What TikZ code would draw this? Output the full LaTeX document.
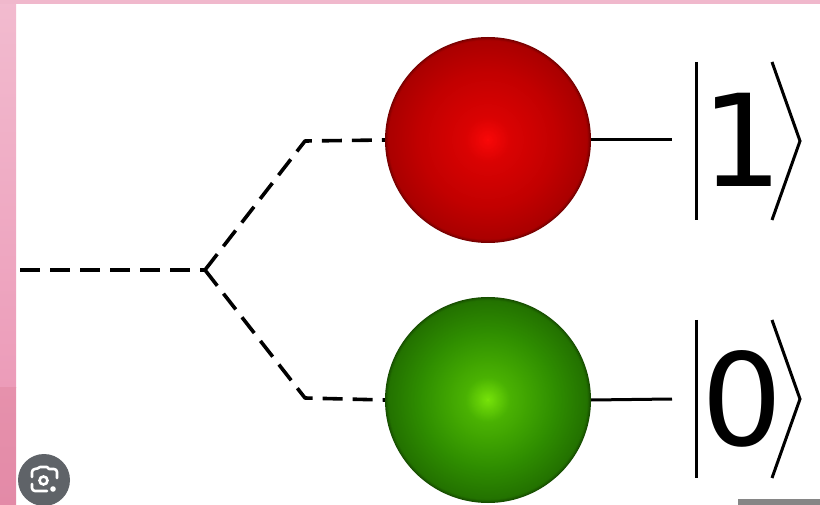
\documentclass[tikz,border=0pt]{standalone}
\usepackage{fontspec}
\setmainfont{DejaVu Sans}
\definecolor{pinkA}{HTML}{F2BBCF}
\definecolor{pinkB}{HTML}{EC9CB9}
\definecolor{pinkC}{HTML}{E691AC}
\definecolor{pinkD}{HTML}{E38AA7}
\definecolor{pinkTop}{HTML}{F0B8CC}
\definecolor{lensgray}{HTML}{5F6368}
\definecolor{rA}{HTML}{FA0808}
\definecolor{rB}{HTML}{DA0202}
\definecolor{rC}{HTML}{C20000}
\definecolor{rD}{HTML}{AA0000}
\definecolor{rE}{HTML}{760000}
\definecolor{gA}{HTML}{78E40A}
\definecolor{gB}{HTML}{4AB202}
\definecolor{gC}{HTML}{2F8E00}
\definecolor{gD}{HTML}{237200}
\definecolor{gE}{HTML}{174E00}
% concentric discs, outside in: #1 centre, #2 radius, #3..#7 colours from centre to rim
\newcommand\shadedsphere[7]{%
  \foreach \k in {0,...,119}{%
    \pgfmathsetmacro\tt{1-\k/120}%
    \pgfmathsetmacro\rr{#2*\tt}%
    \ifdim\tt pt>0.97pt
      \pgfmathsetmacro\pp{100*(\tt-0.97)/0.03}\colorlet{discc}{#7!\pp!#6}%
    \else\ifdim\tt pt>0.66pt
      \pgfmathsetmacro\pp{100*(\tt-0.66)/0.31}\colorlet{discc}{#6!\pp!#5}%
    \else\ifdim\tt pt>0.22pt
      \pgfmathsetmacro\pp{100*(\tt-0.22)/0.44}\colorlet{discc}{#5!\pp!#4}%
    \else
      \pgfmathsetmacro\pp{100*\tt/0.22}\colorlet{discc}{#4!\pp!#3}%
    \fi\fi\fi
    \fill[discc] (#1) circle (\rr);
  }%
  \fill[#3] (#1) circle (1.2);
}
\tikzset{
  sphere/.style={circle, minimum size=206pt, inner sep=0pt},
  path dash/.style={line width=3.6pt, dash pattern=on 20pt off 10pt, line join=round},
  wire/.style={line width=3pt},
  ketline/.style={line width=3pt, line join=miter},
  digit/.style={font=\fontsize{128}{128}\selectfont, inner sep=0pt, anchor=base},
}
\begin{document}
\begin{tikzpicture}[x=1pt, y=-1pt]
  % canvas and frame
  \useasboundingbox (0,0) rectangle (820,505);
  \fill[white] (0,0) rectangle (820,505);
  \shade[top color=pinkA, bottom color=pinkB] (0,0) rectangle (16,387);
  \shade[top color=pinkC, bottom color=pinkD] (0,387) rectangle (16,505);
  \fill[pinkTop] (0,0) rectangle (820,4);

  % the two states
  \node[sphere] (one) at (488,140) {};
  \node[sphere] (zero) at (488,400) {};
  \shadedsphere{one.center}{103}{rA}{rB}{rC}{rD}{rE}
  \shadedsphere{zero.center}{103}{gA}{gB}{gC}{gD}{gE}

  % splitting dashed path
  \coordinate (src) at (20,270);
  \coordinate (fork) at (205,270);
  \coordinate (up) at (305,141);
  \coordinate (dn) at (305,398);
  \draw[path dash] (src) -- (fork);
  \draw[path dash] (fork) -- (up) -- (one.west);
  \draw[path dash] (fork) -- (dn) -- (zero.west);

  % ket labels
  \coordinate (w1) at (672,140);
  \coordinate (w0) at (672,399);
  \draw[wire] (one.east) -- (w1);
  \draw[wire] (zero.east) -- (w0);
  \node[digit] (k1) at (742,187) {1};
  \node[digit] (k0) at (742,445) {0};
  \draw[ketline] (696,62) -- (696,220);
  \draw[ketline] (772,62) -- (800,141) -- (772,220);
  \draw[ketline] (696,320) -- (696,478);
  \draw[ketline] (772,320) -- (800,399) -- (772,478);

  % lens button
  \fill[lensgray] (44,480) circle (26);
  \begin{scope}[white, line width=2.6pt, line cap=round, line join=round]
    \draw[rounded corners=3pt] (32,477) -- (32,469) -- (38,469) [sharp corners] -- (40,467) -- (47,467) -- (49,469) [rounded corners=3pt] -- (57,469) -- (57,478);
    \draw[rounded corners=3pt] (32,484) -- (32,491) -- (47,491);
  \end{scope}
  \draw[white, line width=2.6pt] (43.5,480.5) circle (4);
  \fill[white] (53,489) circle (2.8);

  % gray rule at the lower right
  \fill[gray!95] (738,499) rectangle (820,505);
\end{tikzpicture}
\end{document}
